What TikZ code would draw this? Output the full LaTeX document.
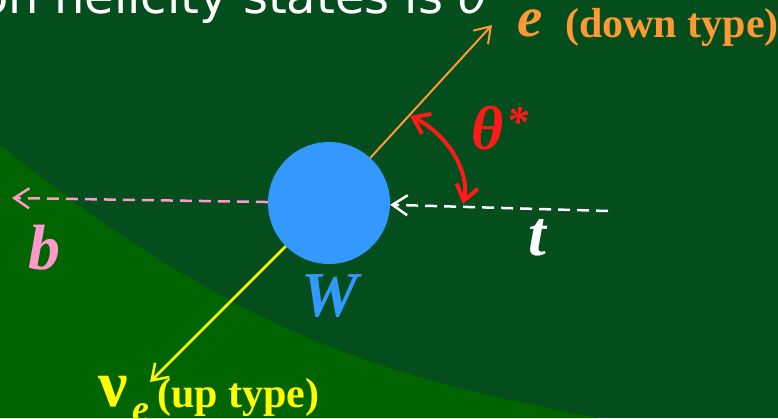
\documentclass[tikz,border=0pt]{standalone}
\usepackage{fontspec}
\setmainfont{Liberation Serif}
\newfontfamily\topfont{DejaVu Sans}
\usetikzlibrary{arrows.meta}
\definecolor{bgdark}{HTML}{044D1C}
\definecolor{bglight}{HTML}{006400}
\definecolor{wblue}{HTML}{3399FF}
\definecolor{eorange}{HTML}{FF9933}
\definecolor{bpink}{HTML}{FF99CC}
\definecolor{nuyellow}{HTML}{FFFF00}
\definecolor{thred}{HTML}{FF1A1A}
\newcommand{\fsz}[1]{\fontsize{#1}{#1}\selectfont}
\begin{document}
\begin{tikzpicture}[x=1pt,y=-1pt,
  tip/.style={-{Straight Barb[length=15pt,width=20pt]}},
  dashline/.style={dash pattern=on 12pt off 7pt},
  lbl/.style={inner sep=0pt, anchor=base west, font=\bfseries\itshape\fsz{64}},
  plain/.style={inner sep=0pt, anchor=base west, font=\bfseries\fsz{42}}]
\useasboundingbox (0,0) rectangle (778,418);
\clip (0,0) rectangle (778,418);
\fill[bgdark] (0,0) rectangle (778,418);
\fill[bglight] (0,145) .. controls (250,345) and (397,378) .. (597,418) -- (0,418) -- cycle;

\node[anchor=base west, inner sep=0pt, text=white, font=\topfont\fsz{48}] (top) at (-21,13) {on helicity states is \textit{θ}};

\node[circle, fill=wblue, minimum size=122pt, inner sep=0pt] (W) at (329,203) {};
\coordinate (etip) at (492,25);
\coordinate (btip) at (12,198);
\coordinate (nutip) at (150,382);
\coordinate (tstart) at (608,211);
\coordinate (arcA) at (463,204);
\coordinate (arcB) at (410,116);

\draw[eorange, line width=2pt, tip] (W) -- (etip);
\draw[bpink, line width=2.5pt, dashline, tip] (W) -- (btip);
\draw[nuyellow, line width=2.5pt, tip] (W) -- (nutip);
\draw[white, line width=2.5pt, dashline, tip] (tstart) -- (W);
\draw[thred, line width=4pt, {Straight Barb[length=15pt,width=22pt]}-{Straight Barb[length=15pt,width=22pt]}]
  (arcA) .. controls (470,175) and (450,135) .. (arcB);

\node[lbl, text=eorange, font=\bfseries\itshape\fsz{57}] (elab) at (517,36) {e};
\node[plain, text=eorange] (edown) at (565,37) {(down type)};
\node[lbl, text=thred, font=\bfseries\itshape\fsz{62}] (th) at (471,149) {θ\kern3pt\raisebox{13pt}{\fsz{44}*}};
\node[lbl, text=white] (tlab) at (528,255) {t};
\node[lbl, text=bpink] (blab) at (28,269) {b};
\node[lbl, text=wblue, anchor=base] (wlab) at (330,316) {W};
\node[plain, text=nuyellow, font=\bfseries\fsz{66}] (nu) at (98,406) {ν};
\node[lbl, text=nuyellow, font=\bfseries\itshape\fsz{38}] (nusub) at (132,421) {e};
\node[plain, text=nuyellow] (uplab) at (157,407) {(up type)};
\end{tikzpicture}
\end{document}
